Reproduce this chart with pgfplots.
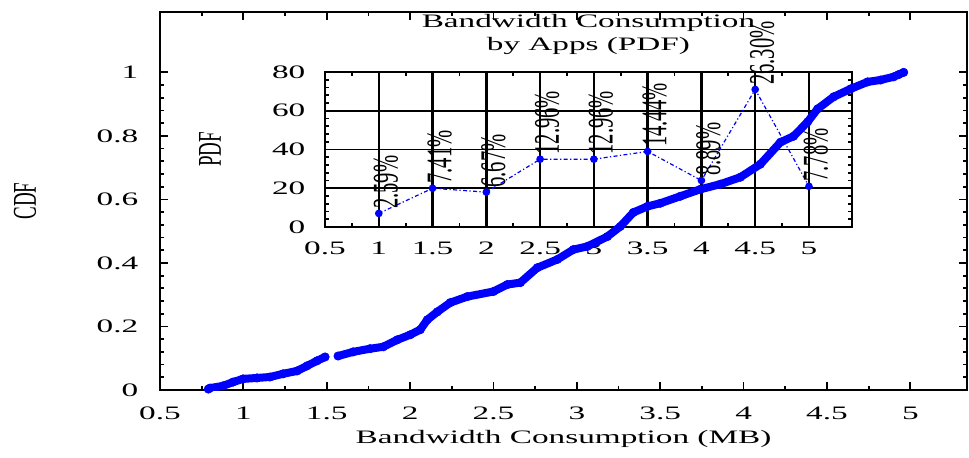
\documentclass[border=0pt]{standalone}
\usepackage{fontspec}
\setmainfont{Liberation Serif}[FakeStretch=1.75]
\newfontfamily\plainserif{Liberation Serif}
\usepackage{graphicx}
\usepackage{pgfplots}
\pgfplotsset{compat=1.18}
\newcommand{\rt}[1]{\scalebox{1}[1.75]{\plainserif #1}}
\begin{document}
\fontsize{9.5}{11.5}\selectfont
\begin{tikzpicture}
\path[use as bounding box] (-80pt,-33.5pt) rectangle (404.5pt,195pt);
% inset
\begin{axis}[
  at={(82.5pt,81.5pt)}, anchor=south west, scale only axis,
  width=263.5pt, height=77.5pt,
  xmin=0.5, xmax=5.4, ymin=0, ymax=80,
  xtick={0.5,1,...,5}, ytick={0,20,...,80},
  minor x tick num=1, minor y tick num=4,
  tick pos=both, tick align=inside,
  major tick length=4pt, minor tick length=2.2pt,
  every tick/.style={black, line width=0.9pt},
  axis line style={line width=1.1pt},
  grid=major,
  x grid style={black, line width=1.25pt},
  y grid style={black, line width=0.8pt},
  /pgf/number format/assume math mode=true,
  xticklabel style={yshift=-4.3pt},
  yticklabel style={xshift=-6.5pt},
  title={Bandwidth Consumption\\by Apps (PDF)},
  title style={at={(axis description cs:0.5,1)}, anchor=south, yshift=2.5pt, inner sep=0pt, align=center},
  ylabel={\rt{PDF}},
  ylabel style={at={(axis description cs:-0.218,0.5)}, anchor=center},
  clip=false,
]
\addplot[blue, line width=0.6pt, dash pattern=on 2pt off 1.2pt on 0.6pt off 1.2pt,
  mark=*, mark size=1.6pt, mark options={solid},
  point meta=explicit symbolic,
  nodes near coords={\rt{\fontsize{10.3}{12}\selectfont\pgfplotspointmeta}},
  nodes near coords style={xshift=3.5pt, rotate=90, anchor=west, inner sep=2pt, black}]
coordinates {
(1,7) [2.59\%]
(1.5,20) [7.41\%]
(2,18) [6.67\%]
(2.5,35) [12.96\%]
(3,35) [12.96\%]
(3.5,39) [14.44\%]
(4,24) [8.89\%]
(4.5,71) [26.30\%]
(5,21) [7.78\%]
};
\end{axis}
% main
\begin{axis}[
  at={(0,0)}, anchor=south west, scale only axis,
  width=403.5pt, height=189pt,
  xmin=0.5, xmax=5.34, ymin=0, ymax=1.19,
  xtick={0.5,1,...,5}, ytick={0,0.2,0.4,0.6,0.8,1},
  minor x tick num=1, minor y tick num=4,
  tick pos=both, tick align=inside,
  major tick length=4pt, minor tick length=2.2pt,
  every tick/.style={black, line width=0.9pt},
  axis line style={line width=1.1pt},
  /pgf/number format/assume math mode=true,
  xticklabel style={yshift=-5pt},
  yticklabel style={xshift=-7.5pt},
  xlabel={Bandwidth Consumption (MB)},
  xlabel style={at={(axis description cs:0.5,0)}, anchor=center, yshift=-24.5pt},
  ylabel={\rt{CDF}},
  ylabel style={at={(axis description cs:-0.1673,0.5)}, anchor=center},
  unbounded coords=jump,
]
\addplot[blue, line width=4pt, line cap=round, line join=round, mark=*, mark size=2.1pt,
  mark options={line width=0.3pt}]
coordinates {
(0.79,0.003) (0.80,0.006) (0.878,0.013) (0.938,0.025) (0.998,0.035)
(1.082,0.038) (1.160,0.041) (1.238,0.051) (1.322,0.060) (1.382,0.076)
(1.442,0.092) (1.490,0.104) (1.53,nan)
(1.568,0.107) (1.658,0.120) (1.760,0.130) (1.839,0.136) (1.923,0.158)
(2.001,0.174) (2.061,0.190) (2.103,0.221) (2.163,0.246) (2.241,0.275)
(2.343,0.294) (2.499,0.310) (2.583,0.332) (2.661,0.338) (2.763,0.385)
(2.883,0.411) (2.979,0.442) (3.063,0.452) (3.183,0.483) (3.261,0.515)
(3.339,0.559) (3.423,0.578) (3.501,0.588) (3.621,0.610) (3.741,0.632)
(3.861,0.648) (3.981,0.670) (4.101,0.711) (4.221,0.780) (4.300,0.799)
(4.384,0.844) (4.444,0.885) (4.540,0.923) (4.642,0.948) (4.744,0.970)
(4.822,0.976) (4.900,0.986) (4.930,0.993) (4.960,1.000)
};
\end{axis}
\end{tikzpicture}
\end{document}
